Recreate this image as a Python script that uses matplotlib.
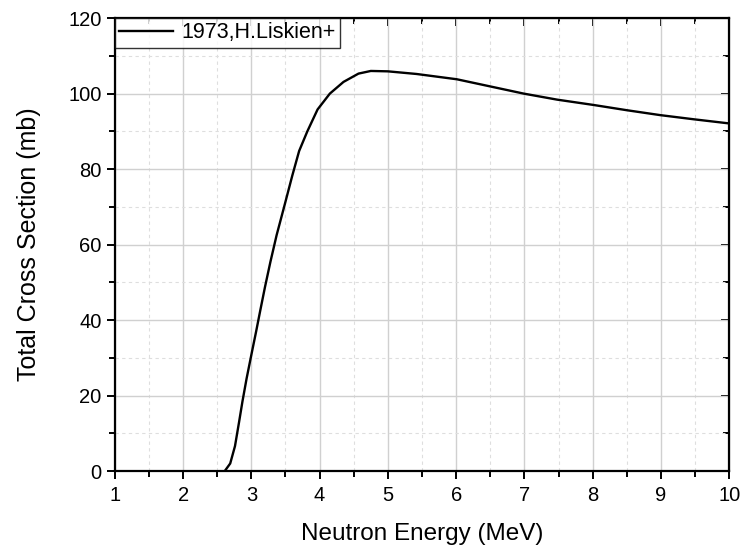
import matplotlib
matplotlib.use("Agg")
import matplotlib.pyplot as plt
from matplotlib.ticker import MultipleLocator

plt.rcParams['font.family'] = ['Liberation Sans', 'DejaVu Sans']

# neutron energy (MeV) and total cross section (mb)
energy = [2.61, 2.69, 2.76, 2.82, 2.87, 2.93, 3.00, 3.07, 3.13, 3.20,
          3.28, 3.37, 3.48, 3.60, 3.70, 3.82, 3.97, 4.15, 4.35, 4.57,
          4.75, 5.0, 5.42, 6.01, 6.5, 6.99, 7.48, 8.01, 8.5, 8.99,
          9.48, 10.0]
sigma = [0.0, 2.0, 6.6, 13.0, 18.5, 24.5, 30.8, 37.0, 42.5, 48.8,
         55.5, 62.5, 70.0, 78.3, 84.8, 90.0, 95.8, 100.0, 103.1, 105.3,
         106.0, 105.9, 105.2, 103.8, 101.9, 100.0, 98.4, 97.0, 95.6, 94.3,
         93.2, 92.1]
label = "1973,H.Liskien+"


def main():
  fig = plt.figure(figsize=(7.41, 5.49), dpi=100)
  ax = fig.add_axes([0.155, 0.142, 0.829, 0.825])

  ax.plot(energy, sigma, color='black', lw=1.7, label=label)

  ax.set_xlim(1, 10)
  ax.set_ylim(0, 120)
  ax.xaxis.set_major_locator(MultipleLocator(1))
  ax.xaxis.set_minor_locator(MultipleLocator(0.5))
  ax.yaxis.set_major_locator(MultipleLocator(20))
  ax.yaxis.set_minor_locator(MultipleLocator(10))

  ax.grid(which='major', color='#d0d0d0', lw=1.0, ls='-')
  ax.grid(which='minor', color='#dedede', lw=0.8, ls=(0, (3, 3)))
  ax.set_axisbelow(True)

  for s in ax.spines.values():
    s.set_linewidth(1.6)

  ax.tick_params(which='both', direction='out', width=1.4, labelsize=14.5)
  ax.tick_params(axis='x', pad=5)
  ax.tick_params(which='major', length=6)
  ax.tick_params(which='minor', length=4)

  # inward ticks on top and right
  top = ax.secondary_xaxis('top')
  top.xaxis.set_major_locator(MultipleLocator(1))
  top.xaxis.set_minor_locator(MultipleLocator(0.5))
  top.tick_params(which='both', direction='in', width=1.4, labeltop=False)
  top.tick_params(which='major', length=6)
  top.tick_params(which='minor', length=4)
  right = ax.secondary_yaxis('right')
  right.yaxis.set_major_locator(MultipleLocator(20))
  right.yaxis.set_minor_locator(MultipleLocator(10))
  right.tick_params(which='both', direction='in', width=1.4, labelright=False)
  right.tick_params(which='major', length=6)
  right.tick_params(which='minor', length=4)

  ax.set_xlabel("Neutron Energy (MeV)", fontsize=17.5, labelpad=13)
  ax.set_ylabel("Total Cross Section (mb)", fontsize=18, labelpad=20)

  leg = ax.legend(loc='upper left', fontsize=15.5, frameon=True, fancybox=False,
                  borderaxespad=0, handlelength=2.5, handletextpad=0.4,
                  borderpad=0.2)
  leg.get_frame().set_edgecolor('black')
  leg.get_frame().set_linewidth(1.0)

  fig.savefig("out.png", dpi=100)


if __name__ == "__main__":
  main()
